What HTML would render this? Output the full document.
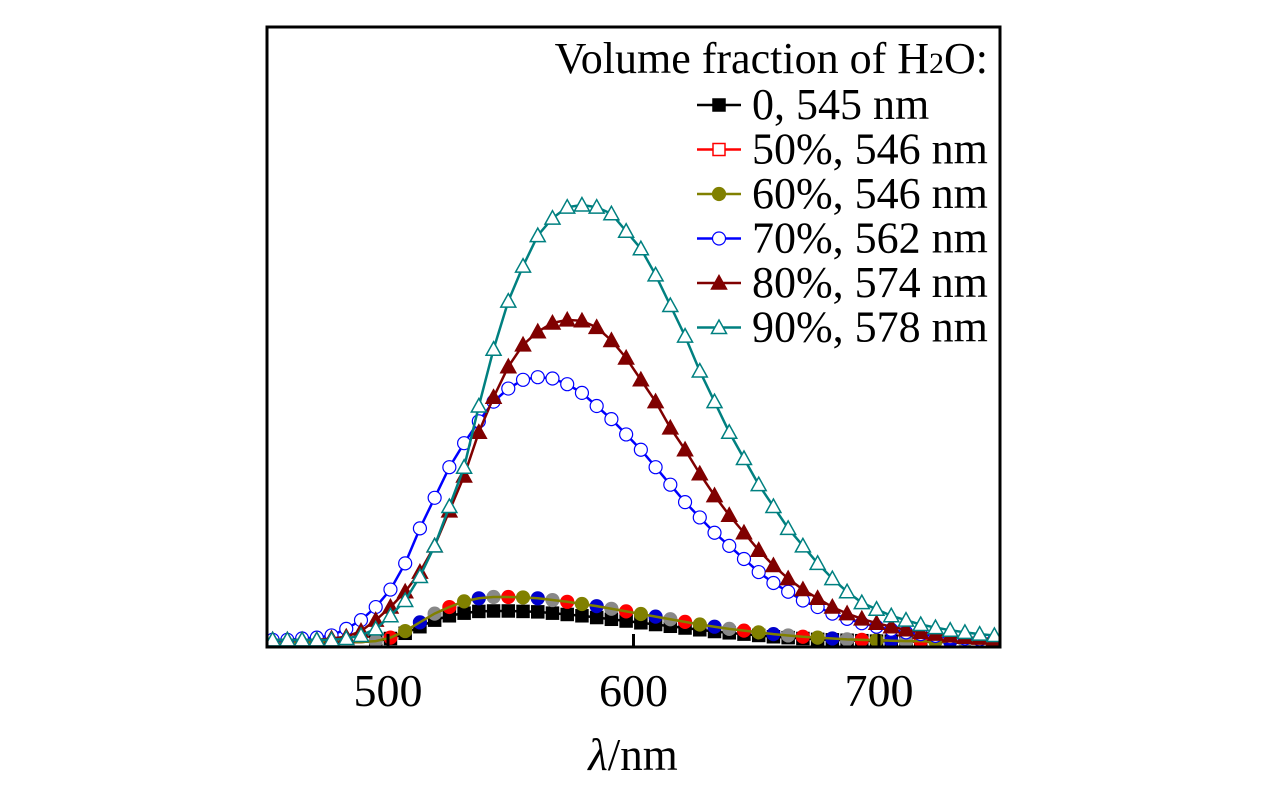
<!DOCTYPE html>
<html><head><meta charset="utf-8"><style>
html,body{margin:0;padding:0;background:#fff;}
svg text{font-family:"Liberation Serif",serif;fill:#000;}
</style></head><body>
<svg id="chart" width="1276" height="787" viewBox="0 0 1276 787" xmlns="http://www.w3.org/2000/svg">
<g id="series"></g>
<rect x="267" y="27" width="733" height="620" fill="none" stroke="#000" stroke-width="3"/>
<g id="xticks"></g>
<text x="633" y="770" font-size="45" text-anchor="middle"><tspan font-style="italic">λ</tspan>/nm</text>
<g>
<text x="988" y="73" font-size="44" text-anchor="end">Volume fraction of H<tspan font-size="30">2</tspan>O:</text>
<g id="legend-entries"></g>
</g>
</svg>
<script>
const wavelengths=[453,459,465,471,477,483,489,495,501,507,513,519,525,531,537,543,549,555,561,567,573,579,585,591,597,603,609,615,621,627,633,639,645,651,657,663,669,675,681,687,693,699,705,711,717,723,729,735,741,747];
const s0=[0,0,0,0,0,0,0,0.2,0.8,2,3.5,5,6,6.6,7,7.1,7.1,7,6.9,6.6,6.3,6,5.6,5.2,4.8,4.4,4,3.6,3.2,2.8,2.4,2.1,1.8,1.5,1.2,1,0.8,0.6,0.5,0.4,0.3,0.2,0.2,0.1,0.1,0,0,0,0,0];
const s50=[0,0,0,0,0,0,0,0.2,1,2.5,4.5,6.5,8,9.3,10,10.3,10.3,10.2,10,9.6,9.2,8.7,8.2,7.6,7,6.4,5.8,5.2,4.6,4,3.5,3,2.6,2.2,1.8,1.5,1.2,1,0.8,0.6,0.5,0.4,0.3,0.2,0.2,0.1,0.1,0.1,0,0];
const s60=[0,0,0,0,0,0,0,0.2,1,2.5,4.5,6.5,8,9.3,10,10.3,10.3,10.2,10,9.6,9.2,8.7,8.2,7.6,7,6.4,5.8,5.2,4.6,4,3.5,3,2.6,2.2,1.8,1.5,1.2,1,0.8,0.6,0.5,0.4,0.3,0.2,0.2,0.1,0.1,0.1,0,0];
const s70=[0.5,0.5,0.8,1,1.5,3,5,8,12,18,26,33,40,45.5,50.5,55,58,60,60.6,60.3,59,57,54,51,47.5,44,40,36,32,28.5,25,22,19,16,13.5,11.5,9.5,8,6.5,5.3,4.3,3.5,2.8,2.2,1.8,1.4,1.1,0.8,0.6,0.5];
const s80=[0.5,0.5,0.5,0.5,0.8,1.2,2.5,5,8,11.5,16,22,30,38,48,56,63,68,71,73,73.7,73.5,72,69,65,60,55,49,44,38.5,33.5,29,25,21,17.5,14.5,12,10,8,6.5,5.3,4.3,3.5,2.8,2.2,1.8,1.4,1.1,0.9,0.7];
const s90=[0.5,0.5,0.5,0.5,0.5,0.8,1.5,3,6,9.5,15,22,31,40,54,67,78,86,93,97,99.5,100,99.5,98,94,90,84,77,70,62,55,48,42,36,31,26,22,18,14.5,11.5,9,7.5,6,5,4,3.3,2.7,2.2,1.8,1.5];
const xTicks=[500,600,700];
const legendLabels=["0, 545 nm","50%, 546 nm","60%, 546 nm","70%, 562 nm","80%, 574 nm","90%, 578 nm"];

const NS="http://www.w3.org/2000/svg";
function xs(v){return 388+(v-500)*2.455;}
function ys(v){return 642-v*4.37;}
function mk(tag,attrs,parent){const e=document.createElementNS(NS,tag);for(const k in attrs)e.setAttribute(k,attrs[k]);parent.appendChild(e);return e;}
function marker(type,x,y,color,g){
  let e;const r=6.5;
  if(type==='sq'||type==='osq'){e=mk('rect',{x:x-r+0.5,y:y-r+0.5,width:2*r-1,height:2*r-1,fill:type==='sq'?color:'#fff',stroke:color,'stroke-width':1.5},g);}
  else if(type==='circ'||type==='ocirc'){e=mk('circle',{cx:x,cy:y,r:r,fill:type==='circ'?color:'#fff',stroke:color,'stroke-width':1.2},g);}
  else {e=mk('polygon',{points:`${x},${y-r-1} ${x-r-1},${y+r-0.5} ${x+r+1},${y+r-0.5}`,fill:type==='tri'?color:'#fff',stroke:color,'stroke-width':1.5},g);}
  return e;
}
const seriesG=document.getElementById('series');
const defs=[
 {d:s0,c:'#000',m:'sq',n:'series-0pct'},
 {d:s50,c:'#ff0000',m:'circ',n:'series-50pct',multi:true},
 {d:s60,c:'#808000',m:'circ',n:'series-60pct',skip:true},
 {d:s70,c:'#0000ff',m:'ocirc',n:'series-70pct'},
 {d:s80,c:'#800000',m:'tri',n:'series-80pct'},
 {d:s90,c:'#008080',m:'otri',n:'series-90pct'}
];
const multiColors=['#ff0000','#808000','#0000cc','#888888'];
const clip=mk('clipPath',{id:'pc'},seriesG);mk('rect',{x:268,y:28,width:731,height:618},clip);
defs.forEach(s=>{
  const g=mk('g',{'clip-path':'url(#pc)'},seriesG);
  
  
  const pts=wavelengths.map((w,i)=>xs(w)+','+ys(s.d[i])).join(' ');
  const pl=mk('polyline',{points:pts,fill:'none',stroke:s.c,'stroke-width':2.5},g);
  
  
  if(s.skip)return;
  wavelengths.forEach((w,i)=>{
    if((s.multi||s.m==='sq')&&s.d[i]<=0)return;
    const col=s.multi?multiColors[i%4]:s.c;
    const e=marker(s.m,xs(w),ys(s.d[i]),col,g);
    
    
  });
});
const tg=document.getElementById('xticks');
xTicks.forEach(t=>{
  const l=mk('line',{x1:xs(t),x2:xs(t),y1:646,y2:634,stroke:'#000','stroke-width':3},tg);
  
  
  const tx=mk('text',{x:xs(t),y:706,'font-size':46,'text-anchor':'middle'},tg);
  tx.textContent=t;
  
  
});
const lg=document.getElementById('legend-entries');
defs.forEach((s,i)=>{
  const y=105+i*44.5;
  const g=mk('g',{},lg);
  
  
  mk('line',{x1:697,x2:741,y1:y,y2:y,stroke:s.c,'stroke-width':2.5},g);
  const lm={sq:'sq',circ:'circ',ocirc:'ocirc',tri:'tri',otri:'otri'}[s.m];
  marker(i===1?'osq':lm,719,y,s.c,g);
  const t=mk('text',{x:752,y:y+14,'font-size':44},g);
  t.textContent=legendLabels[i];
});
</script>
</body></html>
